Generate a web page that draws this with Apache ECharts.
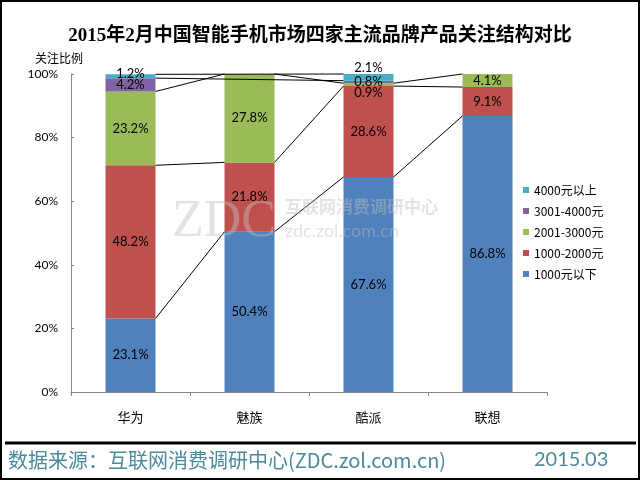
<!DOCTYPE html>
<html>
<head>
<meta charset="utf-8">
<script src="https://cdn.jsdelivr.net/npm/echarts@6/dist/echarts.min.js"></script>
<style>html,body{margin:0;padding:0;background:#fff;}#c{width:640px;height:480px;}</style>
</head>
<body>
<div id="c"></div>
<script>
var categories = ['华为', '魅族', '酷派', '联想'];
var seriesNames = ['1000元以下', '1000-2000元', '2001-3000元', '3001-4000元', '4000元以上'];
var below1000 = [23.1, 50.4, 67.6, 86.8];
var r1000to2000 = [48.2, 21.8, 28.6, 9.1];
var r2001to3000 = [23.2, 27.8, 0.9, 4.1];
var r3001to4000 = [4.2, null, 0.8, null];
var above4000 = [1.2, null, 2.1, null];
var yTicks = [0, 20, 40, 60, 80, 100];
var colors = ['#4F81BD', '#C0504D', '#9BBB59', '#8064A2', '#4BACC6'];

var allSeries = [below1000, r1000to2000, r2001to3000, r3001to4000, above4000];
var labelFont = "Lato, 'Noto Sans CJK SC', sans-serif";
var cjkFont = "'Noto Sans CJK SC', sans-serif";

// label offsets for crowded small segments [series][category]
var labelOffsets = {
  '2-2': [0, 8],
  '4-2': [0, -10],
  '4-0': [0, -2]
};

// cumulative tops
var tops = allSeries.map(function () { return []; });
for (var c = 0; c < categories.length; c++) {
  var acc = 0;
  for (var s = 0; s < allSeries.length; s++) {
    var v = allSeries[s][c];
    if (v !== null) { acc += v; tops[s][c] = acc; } else { tops[s][c] = null; }
  }
}
// series lines connecting consecutive non-null points
var lineData = [];
for (var s2 = 0; s2 < allSeries.length; s2++) {
  var prev = null;
  for (var c2 = 0; c2 < categories.length; c2++) {
    if (tops[s2][c2] !== null) {
      if (prev !== null) lineData.push([s2, prev, c2, tops[s2][prev], tops[s2][c2]]);
      prev = c2;
    }
  }
}

var series = allSeries.map(function (arr, si) {
  return {
    name: seriesNames[si],
    type: 'bar',
    stack: 'total',
    barWidth: '42%',
    itemStyle: { color: colors[si] },
    data: arr.map(function (v, ci) {
      var off = labelOffsets[si + '-' + ci];
      var item = { value: v };
      if (off) item.label = { offset: off };
      return item;
    }),
    label: {
      show: true,
      position: 'inside',
      formatter: function (p) { return p.value == null ? '' : p.value + '%'; },
      color: '#000',
      fontSize: 13,
      fontFamily: labelFont
    }
  };
});

series.push({
  type: 'custom',
  z: 3,
  silent: true,
  encode: { x: [1, 2], y: [3, 4] },
  data: lineData,
  renderItem: function (params, api) {
    var half = api.size([1, 0])[0] * 0.42 / 2;
    var p1 = api.coord([api.value(1), api.value(3)]);
    var p2 = api.coord([api.value(2), api.value(4)]);
    return {
      type: 'line',
      shape: { x1: p1[0] + half, y1: p1[1], x2: p2[0] - half, y2: p2[1] },
      style: { stroke: '#000', lineWidth: 1 }
    };
  }
});

var chart = echarts.init(document.getElementById('c'));
chart.setOption({
  animation: false,
  backgroundColor: '#fff',
  title: {
    text: '2015年2月中国智能手机市场四家主流品牌产品关注结构对比',
    left: 'center',
    top: 22,
    textStyle: { fontSize: 19, fontWeight: 'bold', color: '#000', fontFamily: "'Liberation Serif', 'Noto Sans CJK SC', serif" }
  },
  legend: {
    orient: 'vertical',
    left: 518,
    top: 178,
    itemWidth: 6,
    itemHeight: 6,
    itemGap: 7,
    icon: 'rect',
    data: seriesNames.slice().reverse(),
    textStyle: { fontSize: 12, color: '#000', fontFamily: cjkFont, lineHeight: 14 }
  },
  grid: { left: 71, right: 93, top: 74, bottom: 88 },
  xAxis: {
    type: 'category',
    data: categories,
    axisLine: { lineStyle: { color: '#868686' } },
    axisTick: { show: true, length: 4, lineStyle: { color: '#868686' } },
    axisLabel: { color: '#000', fontSize: 13, margin: 19, fontFamily: cjkFont }
  },
  yAxis: {
    type: 'value',
    min: yTicks[0],
    max: yTicks[yTicks.length - 1],
    interval: yTicks[1] - yTicks[0],
    name: '关注比例',
    nameLocation: 'end',
    nameGap: 10,
    nameTextStyle: { color: '#000', fontSize: 12, fontFamily: cjkFont, align: 'right', padding: [0, -12, 0, 0] },
    axisLine: { show: true, lineStyle: { color: '#868686' } },
    axisTick: { show: true, inside: true, length: 3, lineStyle: { color: '#868686' } },
    splitLine: { show: false },
    axisLabel: { color: '#000', fontSize: 12, margin: 13, fontFamily: labelFont, formatter: '{value}%' }
  },
  graphic: [
    { type: 'rect', z: 100, shape: { x: 1, y: 1, width: 638, height: 478 }, style: { fill: 'none', stroke: '#000', lineWidth: 2 } },
    { type: 'line', z: 100, shape: { x1: 5, y1: 443, x2: 636, y2: 443 }, style: { stroke: '#000', lineWidth: 3 } },
    { type: 'text', z: 100, left: 8, top: 450, style: { text: '数据来源：互联网消费调研中心(ZDC.zol.com.cn)', fill: '#4A8A9C', fontSize: 20, fontFamily: cjkFont } },
    { type: 'text', z: 100, left: 534, top: 450, style: { text: '2015.03', fill: '#4A8A9C', fontSize: 20, fontFamily: labelFont } },
    { type: 'text', z: 50, left: 172, top: 196, style: { text: 'ZDC', fill: 'rgba(190,190,190,0.45)', fontSize: 52, fontFamily: "'Liberation Serif', serif" } },
    { type: 'text', z: 50, left: 285, top: 198, style: { text: '互联网消费调研中心', fill: 'rgba(190,190,190,0.45)', fontSize: 17, fontWeight: 'bold', fontFamily: cjkFont } },
    { type: 'text', z: 50, left: 285, top: 222, style: { text: 'zdc.zol.com.cn', fill: 'rgba(190,190,190,0.45)', fontSize: 18, fontFamily: labelFont } }
  ],
  series: series
});
</script>
</body>
</html>
